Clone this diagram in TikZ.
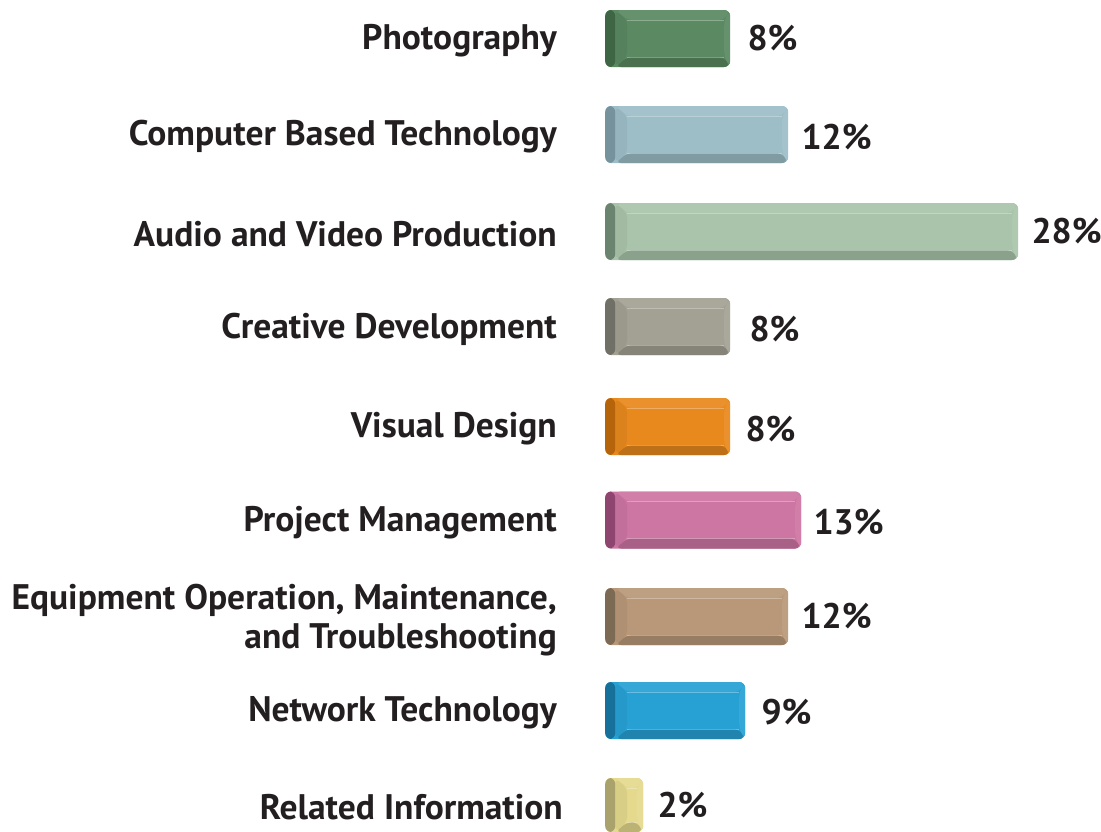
\documentclass[tikz,border=0pt]{standalone}
\usepackage{fontspec}
\setmainfont{PT Sans}
\usepackage{tikz}
\usetikzlibrary{positioning}
\definecolor{txt}{HTML}{231F20}
\definecolor{photo}{HTML}{5A8962}\definecolor{photodark}{HTML}{3E6645}
\definecolor{comp}{HTML}{9DBDC7}\definecolor{compdark}{HTML}{76939D}
\definecolor{audio}{HTML}{A9C4AA}\definecolor{audiodark}{HTML}{6B8470}
\definecolor{creat}{HTML}{A3A193}\definecolor{creatdark}{HTML}{717066}
\definecolor{visual}{HTML}{E8891E}\definecolor{visualdark}{HTML}{B5640C}
\definecolor{proj}{HTML}{CD75A3}\definecolor{projdark}{HTML}{8E4670}
\definecolor{equip}{HTML}{B89878}\definecolor{equipdark}{HTML}{7D6A55}
\definecolor{net}{HTML}{27A1D4}\definecolor{netdark}{HTML}{17709A}
\definecolor{rel}{HTML}{E4D98D}\definecolor{reldark}{HTML}{A9A26C}
\tikzset{
  lbl/.style={inner sep=0pt, text=txt, font=\fontsize{35.5}{39}\selectfont\bfseries, align=right, yshift=-2.5pt},
  val/.style={inner sep=0pt, text=txt, font=\fontsize{35.5}{39}\selectfont\bfseries},
  bar/.style 2 args={rectangle, rounded corners=6pt, minimum height=57pt, inner sep=0pt,
    anchor=west, fill=#1,
    path picture={
      \coordinate (sw) at (path picture bounding box.south west);
      \coordinate (nw) at (path picture bounding box.north west);
      \coordinate (ne) at (path picture bounding box.north east);
      \coordinate (se) at (path picture bounding box.south east);
      % bevels
      \fill[#1!93!white] ([xshift=10pt]nw) -- (ne) -- ([xshift=-6pt,yshift=-10pt]ne) -- ([xshift=22pt,yshift=-10pt]nw) -- cycle;
      \fill[#1!82!black] ([xshift=10pt]sw) -- (se) -- ([xshift=-6pt,yshift=10pt]se) -- ([xshift=22pt,yshift=10pt]sw) -- cycle;
      \fill[#1!93!white] (ne) -- (se) -- ([xshift=-6pt,yshift=10pt]se) -- ([xshift=-6pt,yshift=-10pt]ne) -- cycle;
      \fill[#1!95!black] ([xshift=10pt]sw) -- ([xshift=10pt]nw) -- ([xshift=22pt,yshift=-10pt]nw) -- ([xshift=22pt,yshift=10pt]sw) -- cycle;
      \fill[#2] (sw) rectangle ([xshift=10pt]nw);
      \draw[white, opacity=0.3, line width=0.7pt] ([xshift=22pt,yshift=-10pt]nw) -- ([xshift=-6pt,yshift=-10pt]ne)
        ([xshift=22pt,yshift=10pt]sw) -- ([xshift=-6pt,yshift=10pt]se);
    }}
}
\begin{document}
\begin{tikzpicture}[x=1pt, y=-1pt]
\useasboundingbox (0,0) rectangle (1101,831);
% bars
\node (photobar) [bar={photo}{photodark}, minimum width=125pt] at (605,38.5) {};
\node (compbar) [bar={comp}{compdark}, minimum width=183pt] at (605,134.5) {};
\node (audiobar) [bar={audio}{audiodark}, minimum width=413pt] at (605,231.5) {};
\node (creatbar) [bar={creat}{creatdark}, minimum width=125pt] at (605,326.5) {};
\node (visualbar) [bar={visual}{visualdark}, minimum width=125pt] at (605,426.5) {};
\node (projbar) [bar={proj}{projdark}, minimum width=196pt] at (605,520) {};
\node (equipbar) [bar={equip}{equipdark}, minimum width=183pt] at (605,616.5) {};
\node (netbar) [bar={net}{netdark}, minimum width=140pt] at (605,710.5) {};
\node (relbar) [bar={rel}{reldark}, minimum width=38pt, minimum height=54pt] at (605,805) {};
%-----------------------------------------------
\node (photo) [lbl, left=48pt of photobar] {Photography};
\node (comp) [lbl, left=48pt of compbar] {Computer Based Technology};
\node (audio) [lbl, left=48pt of audiobar] {Audio and Video Production};
\node (creat) [lbl, left=48pt of creatbar] {Creative Development};
\node (visual) [lbl, left=48pt of visualbar] {Visual Design};
\node (proj) [lbl, left=48pt of projbar] {Project Management};
\node (equip) [lbl, left=48pt of equipbar, yshift=-1pt] {Equipment Operation, Maintenance,\\and Troubleshooting};
\node (net) [lbl, left=48pt of netbar] {Network Technology};
\node (rel) [lbl, left=42pt of relbar] {Related Information};
%-----------------------------------------------
\node (photoval) [val, right=17pt of photobar] {8\%};
\node (compval) [val, right=13pt of compbar, yshift=-3pt] {12\%};
\node (audioval) [val, right=13pt of audiobar] {28\%};
\node (creatval) [val, right=19pt of creatbar, yshift=-3pt] {8\%};
\node (visualval) [val, right=15pt of visualbar, yshift=-3pt] {8\%};
\node (projval) [val, right=12pt of projbar, yshift=-2pt] {13\%};
\node (equipval) [val, right=13pt of equipbar] {12\%};
\node (netval) [val, right=16pt of netbar, yshift=-2pt] {9\%};
\node (relval) [val, right=14pt of relbar] {2\%};
\end{tikzpicture}
\end{document}
